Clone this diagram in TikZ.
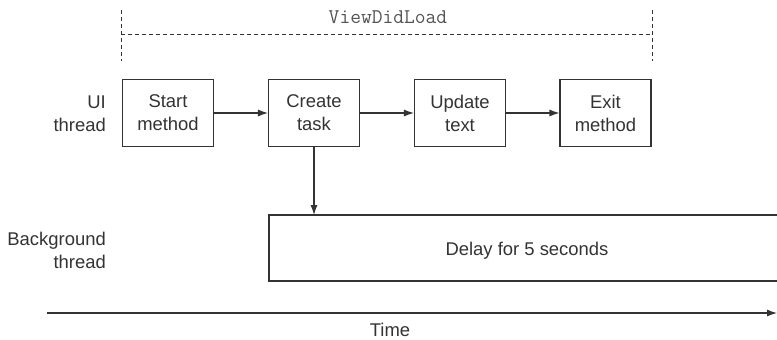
\documentclass[tikz,border=0pt]{standalone}
\usepackage{fontspec}
\setmainfont{Liberation Sans}
\usetikzlibrary{arrows.meta}
\definecolor{ink}{HTML}{333333}
\definecolor{monogray}{HTML}{555555}
\begin{document}
\begin{tikzpicture}[x=1bp,y=-1bp,
  every node/.style={text=ink},
  txt/.style={font=\fontsize{18.5}{23}\selectfont},
  stepbox/.style={txt,draw=ink,line width=1.1bp,minimum width=91bp,minimum height=67bp,inner sep=0pt,align=center},
  lbl/.style={txt,align=right,anchor=east,inner sep=0pt},
  conn/.style={draw=ink,line width=1.1bp,-{Latex[length=10bp,width=7bp]}},
  dashln/.style={draw=ink,line width=0.9bp,dash pattern=on 4bp off 3bp}]
\useasboundingbox (0,0) rectangle (777,339);
% ViewDidLoad bracket
\coordinate (vl1) at (121,10);
\coordinate (vl2) at (121,61);
\coordinate (vr1) at (652,10);
\coordinate (vr2) at (652,61);
\coordinate (hl) at (121,34);
\coordinate (hr) at (652,34);
\draw[dashln] (vl1) -- (vl2);
\draw[dashln] (vr1) -- (vr2);
\draw[dashln] (hl) -- (hr);
\node[text=monogray,font=\fontsize{21}{22}\ttfamily,inner sep=0pt,anchor=base] (vdl) at (388,23) {ViewDidLoad};
% UI row
\node[lbl] (ui) at (106,114) {UI\\thread};
\node[stepbox] (start) at (168,113) {Start\\method};
\node[stepbox] (create) at (314,113) {Create\\task};
\node[stepbox] (update) at (460,113) {Update\\text};
\node[stepbox] (exit) at (605.5,113) {Exit\\method};
\draw[conn] (start) -- (create);
\draw[conn] (create) -- (update);
\draw[conn] (update) -- (exit);
% Background
\node[lbl] (bg) at (106,250) {Background\\thread};
\coordinate (dtl) at (269,215);
\coordinate (dtr) at (777,215);
\coordinate (dbl) at (269,281);
\coordinate (dbr) at (777,281);
\draw[draw=ink,line width=1.1bp] (dtr) -- (dtl) -- (dbl) -- (dbr);
\node[txt,inner sep=0pt,anchor=base] (delay) at (527,255) {Delay for 5 seconds};
\draw[conn] (create.south) -- (create.south |- dtl);
% Time axis
\coordinate (t0) at (47,313);
\coordinate (t1) at (777,313);
\draw[conn] (t0) -- (t1);
\node[txt,inner sep=0pt,anchor=base] (time) at (390,336) {Time};
\end{tikzpicture}
\end{document}
